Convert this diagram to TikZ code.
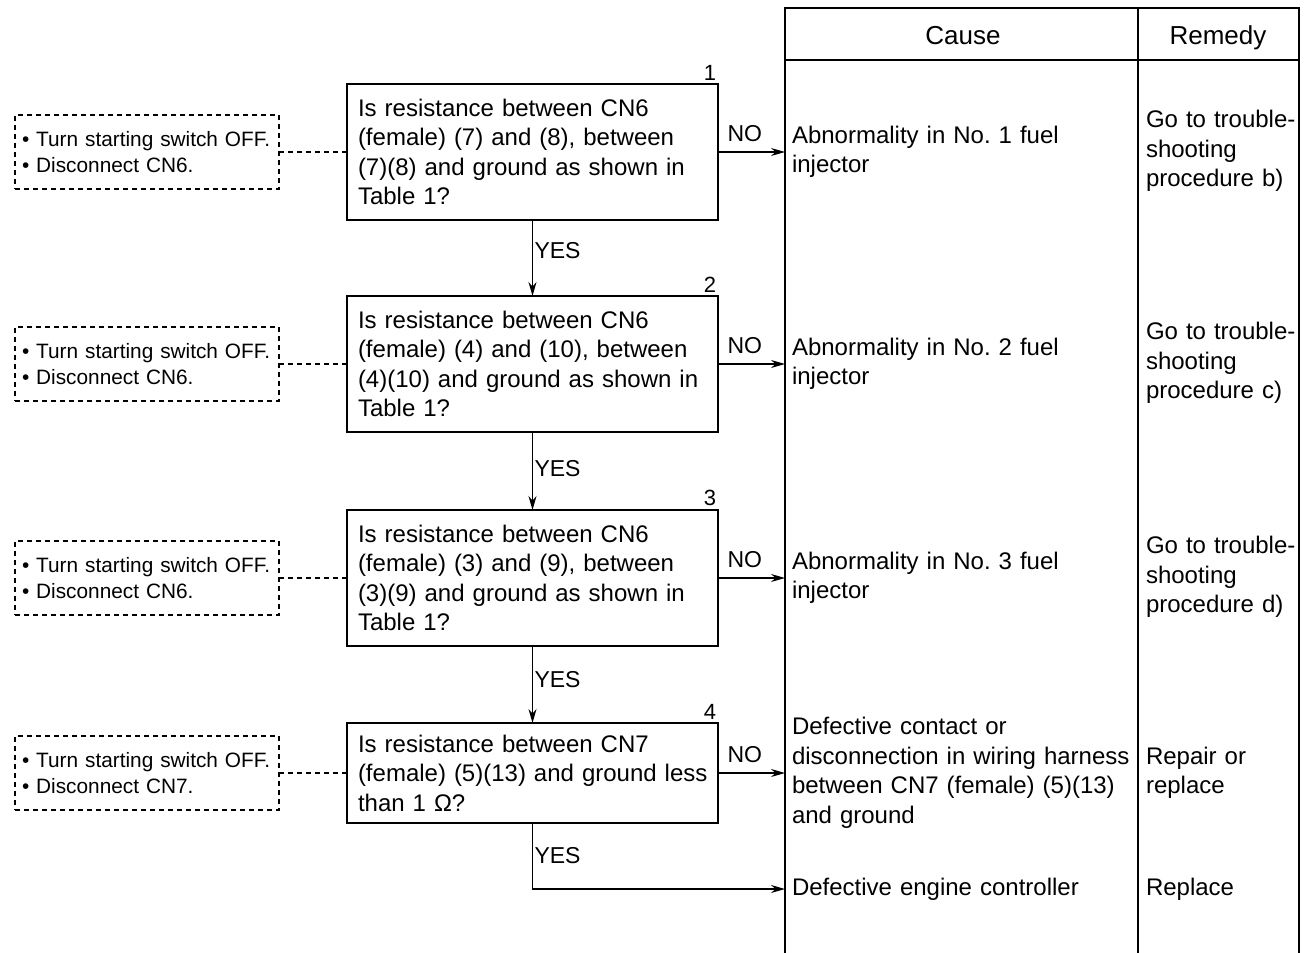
\documentclass[tikz,border=0pt]{standalone}
\usepackage{fontspec}
\setmainfont{Liberation Sans}
\frenchspacing
\usetikzlibrary{arrows.meta}
\begin{document}
\begin{tikzpicture}[x=1pt,y=-1pt,
  line width=1.3pt,
  every node/.style={inner sep=0pt, outer sep=0pt},
  qbox/.style={draw, line width=1.3pt, anchor=north west, text width=349pt, align=left,
    inner xsep=11pt, inner ysep=0pt, font=\fontsize{24}{29.5}\selectfont},
  chkbox/.style={draw, dashed, dash pattern=on 5pt off 4pt, line width=1.2pt, anchor=north west,
    minimum width=264pt, minimum height=74pt, text width=250pt, align=left,
    inner xsep=7pt, font=\fontsize{20.8}{25.5}\selectfont},
  causetxt/.style={anchor=west, text width=340pt, align=left, inner xsep=7pt,
    font=\fontsize{24}{29.5}\selectfont},
  remtxt/.style={anchor=west, text width=150pt, align=left, inner xsep=8pt,
    font=\fontsize{24}{29.5}\selectfont},
  numlbl/.style={anchor=south east, font=\fontsize{22}{22}\selectfont},
  hdr/.style={anchor=base, font=\fontsize{26}{30}\selectfont},
  flow/.style={-{Stealth[length=14pt,width=8pt]}, line width=1.2pt},
  link/.style={dashed, dash pattern=on 5pt off 4pt, line width=1.2pt},
  lbl/.style={font=\fontsize{23}{23}\selectfont, inner sep=2pt}
]
\useasboundingbox (0,0) rectangle (1307,953);

% table
\draw (785,953) -- (785,8) -- (1299,8) -- (1299,953);
\draw (785,60) -- (1299,60);
\draw (1138,8) -- (1138,953);
\node[hdr] (hc) at (963,44) {Cause};
\node[hdr] (hr) at (1218,44) {Remedy};

% question boxes
\node[qbox, minimum height=136pt] (b1) at (347,84) {Is resistance between CN6\\(female) (7) and (8), between\\(7)(8) and ground as shown in\\Table 1?};
\node[qbox, minimum height=136pt] (b2) at (347,296) {Is resistance between CN6\\(female) (4) and (10), between\\(4)(10) and ground as shown in\\Table 1?};
\node[qbox, minimum height=136pt] (b3) at (347,510) {Is resistance between CN6\\(female) (3) and (9), between\\(3)(9) and ground as shown in\\Table 1?};
\node[qbox, minimum height=100pt] (b4) at (347,723) {Is resistance between CN7\\\mbox{(female) (5)(13) and ground less}\\than 1 Ω?};

\node[numlbl] (n1) at ([xshift=-2pt,yshift=4pt]b1.north east) {1};
\node[numlbl] (n2) at ([xshift=-2pt,yshift=4pt]b2.north east) {2};
\node[numlbl] (n3) at ([xshift=-2pt,yshift=4pt]b3.north east) {3};
\node[numlbl] (n4) at ([xshift=-2pt,yshift=4pt]b4.north east) {4};

% check boxes
\node[chkbox] (d1) at (15,115) {• Turn starting switch OFF.\\• Disconnect CN6.};
\node[chkbox] (d2) at (15,327) {• Turn starting switch OFF.\\• Disconnect CN6.};
\node[chkbox] (d3) at (15,541) {• Turn starting switch OFF.\\• Disconnect CN6.};
\node[chkbox] (d4) at (15,736) {• Turn starting switch OFF.\\• Disconnect CN7.};
\draw[link] (d1.east) -- (d1.east -| b1.west);
\draw[link] (d2.east) -- (d2.east -| b2.west);
\draw[link] (d3.east) -- (d3.east -| b3.west);
\draw[link] (d4.east) -- (d4.east -| b4.west);

% causes
\node[causetxt] (c1) at (785,152) {Abnormality in No. 1 fuel\\injector};
\node[causetxt] (c2) at (785,364) {Abnormality in No. 2 fuel\\injector};
\node[causetxt] (c3) at (785,578) {Abnormality in No. 3 fuel\\injector};
\node[causetxt] (c4) at (785,773) {Defective contact or\\disconnection in wiring harness\\between CN7 (female) (5)(13)\\and ground};
\node[causetxt] (c5) at (785,889) {Defective engine controller};

% remedies
\node[remtxt] (r1) at (1138,151) {Go to trouble-\\shooting\\procedure b)};
\node[remtxt] (r2) at (1138,363) {Go to trouble-\\shooting\\procedure c)};
\node[remtxt] (r3) at (1138,577) {Go to trouble-\\shooting\\procedure d)};
\node[remtxt] (r4) at (1138,773) {Repair or\\replace};
\node[remtxt] (r5) at (1138,889) {Replace};

% NO arrows
\draw[flow] (b1.east |- c1.west) -- node[lbl, above=8pt, pos=0.4] {NO} (c1.west);
\draw[flow] (b2.east |- c2.west) -- node[lbl, above=8pt, pos=0.4] {NO} (c2.west);
\draw[flow] (b3.east |- c3.west) -- node[lbl, above=8pt, pos=0.4] {NO} (c3.west);
\draw[flow] (b4.east |- c4.west) -- node[lbl, above=8pt, pos=0.4] {NO} (c4.west);

% YES arrows
\draw[flow] (b1.south) -- node[lbl, right, pos=0.4] {YES} (b2.north);
\draw[flow] (b2.south) -- node[lbl, right, pos=0.47] {YES} (b3.north);
\draw[flow] (b3.south) -- node[lbl, right, pos=0.44] {YES} (b4.north);
\draw[flow] (b4.south) |- node[lbl, right, pos=0.25] {YES} (c5.west);
\end{tikzpicture}
\end{document}
